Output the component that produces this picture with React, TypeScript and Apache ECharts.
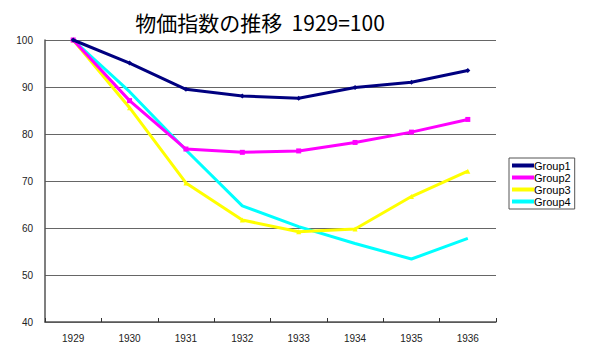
import React, { useEffect, useRef } from "react";
import * as echarts from "echarts";

const categories = ["1929", "1930", "1931", "1932", "1933", "1934", "1935", "1936"];
const group1 = [100, 95.1, 89.5, 88.1, 87.6, 89.9, 91.0, 93.5];
const group2 = [100, 87.1, 76.8, 76.1, 76.4, 78.2, 80.4, 83.1];
const group3 = [100, 85.6, 69.6, 61.7, 59.2, 59.8, 66.7, 72.1];
const group4 = [100, 89.0, 76.6, 64.7, 60.3, 56.7, 53.4, 57.8];
const seriesNames = ["Group1", "Group2", "Group3", "Group4"];
const colors = ["#000080", "#FF00FF", "#FFFF00", "#00FFFF"];
const symbols = ["diamond", "rect", "triangle", "none"];

export default function App() {
  const ref = useRef<HTMLDivElement>(null);
  useEffect(() => {
    if (!ref.current) return;
    const chart = echarts.init(ref.current, null, { renderer: "svg" });
    const data = [group1, group2, group3, group4];
    chart.setOption({
      animation: false,
      backgroundColor: "#ffffff",
      title: {
        text: "物価指数の推移  1929=100",
        left: 255,
        textAlign: "center",
        top: 6,
        textStyle: {
          fontFamily: "Noto Sans CJK JP",
          fontSize: 21,
          fontWeight: "normal",
          color: "#000",
        },
      },
      legend: {
        orient: "vertical",
        left: 509,
        top: 158,
        padding: [2, 4, 2, 3],
        itemGap: 1,
        itemWidth: 22,
        itemHeight: 4,
        borderColor: "#555",
        borderWidth: 1,
        borderRadius: 0,
        textStyle: { fontSize: 11, lineHeight: 11, color: "#000", fontFamily: "Liberation Sans", padding: [0, 0, 0, -5] },
        data: seriesNames.map((n) => ({ name: n, icon: "rect" })),
        itemStyle: { borderWidth: 0 },
      },
      grid: { left: 45, right: 104, top: 40, bottom: 32 },
      xAxis: {
        type: "category",
        data: categories,
        boundaryGap: true,
        axisLine: { lineStyle: { color: "#555", width: 1.5 } },
        axisTick: { show: true, inside: true, length: 4, lineStyle: { color: "#333" } },
        axisLabel: { fontSize: 10, color: "#222", margin: 11, fontFamily: "Liberation Sans" },
      },
      yAxis: {
        type: "value",
        min: 40,
        max: 100,
        interval: 10,
        axisLine: { show: true, lineStyle: { color: "#555", width: 1.5 } },
        axisTick: { show: false },
        axisLabel: { fontSize: 10, color: "#222", margin: 12, fontFamily: "Liberation Sans" },
        splitLine: { lineStyle: { color: "#666", width: 1.2 } },
      },
      series: data.map((d, i) => ({
        name: seriesNames[i],
        type: "line",
        data: d,
        symbol: symbols[i],
        symbolSize: 5,
        showSymbol: symbols[i] !== "none",
        lineStyle: { color: colors[i], width: 3 },
        itemStyle: { color: colors[i] },
        z: 10 - i,
      })),
    });
    return () => chart.dispose();
  }, []);
  return <div ref={ref} style={{ position: "fixed", left: 0, top: 0, width: 600, height: 354 }} />;
}
